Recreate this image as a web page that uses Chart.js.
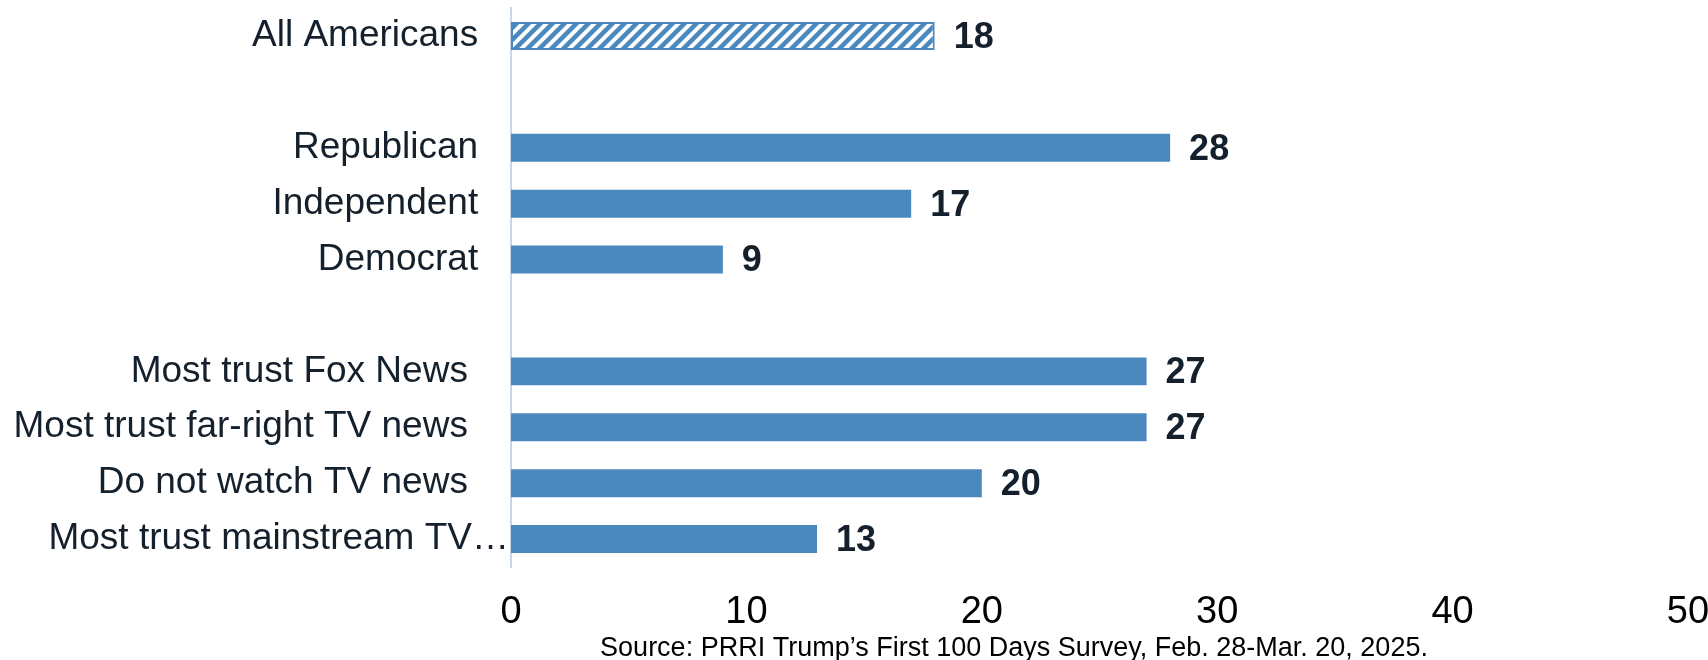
<!DOCTYPE html>
<html>
<head>
<meta charset="utf-8">
<script src="https://cdn.jsdelivr.net/npm/chart.js@4"></script>
<style>
  html, body { margin: 0; padding: 0; background: #ffffff; }
  #wrap { width: 1708px; height: 660px; position: relative; }
</style>
</head>
<body>
<div id="wrap"><canvas id="c" width="1708" height="660"></canvas></div>
<script>
// ---- data ----
const categories = [
  "All Americans   ",
  "",
  "Republican   ",
  "Independent   ",
  "Democrat   ",
  "",
  "Most trust Fox News    ",
  "Most trust far-right TV news    ",
  "Do not watch TV news    ",
  "Most trust mainstream TV\u2026"
];
const values = [18, null, 28, 17, 9, null, 27, 27, 20, 13];
const xTicks = [0, 10, 20, 30, 40, 50];
const sourceNote = "Source: PRRI Trump\u2019s First 100 Days Survey, Feb. 28-Mar. 20, 2025.";

// ---- styles ----
const FONT = "'Liberation Sans', Arial, Helvetica, sans-serif";
const BLUE = "#4b88be";
const TEXT = "#14202c";

function makeHatch() {
  const s = 12;
  const p = document.createElement('canvas');
  p.width = s; p.height = s;
  const g = p.getContext('2d');
  g.fillStyle = '#ffffff';
  g.fillRect(0, 0, s, s);
  g.strokeStyle = BLUE;
  g.lineWidth = 4.5;
  g.beginPath();
  g.moveTo(-s, s * 2); g.lineTo(s * 2, -s);
  g.moveTo(-s * 2, s * 2); g.lineTo(s, -s);
  g.moveTo(0, s * 2); g.lineTo(s * 3, -s);
  g.stroke();
  return g.createPattern(p, 'repeat');
}
const hatch = makeHatch();

const bg = values.map((v, i) => i === 0 ? hatch : BLUE);
const bw = values.map((v, i) => i === 0 ? 2 : 0);

const valueLabels = {
  id: 'valueLabels',
  afterDatasetsDraw(chart) {
    const ctx = chart.ctx;
    const meta = chart.getDatasetMeta(0);
    ctx.save();
    ctx.font = "bold 36px " + FONT;
    ctx.fillStyle = TEXT;
    ctx.textAlign = 'left';
    ctx.textBaseline = 'middle';
    meta.data.forEach((bar, i) => {
      const v = values[i];
      if (v === null || v === undefined) return;
      ctx.fillText(String(v), bar.x + 19, bar.y + 2);
    });
    ctx.restore();
  }
};

const sourcePlugin = {
  id: 'sourceNote',
  afterDraw(chart) {
    const ctx = chart.ctx;
    ctx.save();
    ctx.font = "27px " + FONT;
    ctx.fillStyle = "#000000";
    ctx.textAlign = 'center';
    ctx.textBaseline = 'alphabetic';
    ctx.fillText(sourceNote, 1014, 656);
    ctx.restore();
  }
};

new Chart(document.getElementById('c'), {
  type: 'bar',
  data: {
    labels: categories,
    datasets: [{
      data: values,
      backgroundColor: bg,
      borderColor: BLUE,
      borderWidth: bw,
      borderSkipped: false,
      barPercentage: 0.5,
      categoryPercentage: 1.0
    }]
  },
  options: {
    indexAxis: 'y',
    responsive: false,
    animation: false,
    devicePixelRatio: 1,
    layout: { padding: { top: 8, right: 20, bottom: 24, left: 0 } },
    plugins: {
      legend: { display: false },
      tooltip: { enabled: false },
      title: { display: false }
    },
    scales: {
      y: {
        grid: { display: false, drawTicks: false },
        border: { display: true, color: '#c9d6e6', width: 2 },
        ticks: {
          autoSkip: false,
          padding: 2,
          color: TEXT,
          font: { family: FONT, size: 37 }
        },
        afterFit(scale) {
          scale.width = 511;
          scale.paddingTop = 0; scale.paddingBottom = 0;
          scale.paddingLeft = 0; scale.paddingRight = 0;
        }
      },
      x: {
        min: 0,
        max: 50,
        afterBuildTicks(scale) { scale.ticks = xTicks.map(v => ({ value: v })); },
        grid: { display: false, drawTicks: false },
        border: { display: false },
        ticks: {
          padding: 23,
          color: '#000000',
          maxRotation: 0,
          font: { family: FONT, size: 38 }
        },
        afterFit(scale) {
          scale.height = 69;
          scale.paddingTop = 0; scale.paddingBottom = 0;
          scale.paddingLeft = 0; scale.paddingRight = 0;
        }
      }
    }
  },
  plugins: [valueLabels, sourcePlugin]
});
</script>
</body>
</html>
